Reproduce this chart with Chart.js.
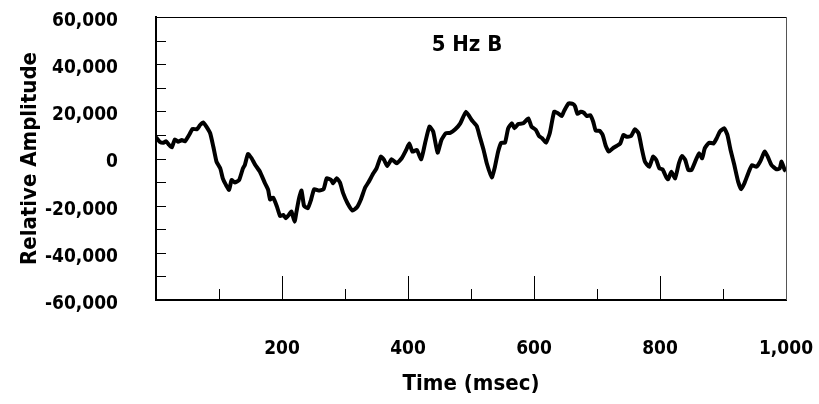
<!DOCTYPE html>
<html>
<head>
<meta charset="utf-8">
<script src="https://cdn.jsdelivr.net/npm/chart.js@4"></script>
<style>
  body { margin: 0; background: #fff; }
</style>
</head>
<body>
<canvas id="myChart" width="819" height="404"></canvas>
<script>
const timeMs = [0, 6, 12, 16, 20, 25, 30, 35, 41, 46, 53, 58, 65, 70, 75, 80, 86, 91, 96, 102,
    106, 111, 116, 120, 125, 132, 138, 141, 146, 152, 157, 165, 173, 178, 181, 186, 192, 197, 202, 206,
    212, 215, 220, 223, 227, 231, 235, 241, 246, 251, 258, 266, 271, 278, 281, 287, 292, 297, 304, 312,
    319, 325, 332, 337, 345, 350, 357, 362, 367, 374, 382, 390, 397, 402, 407, 414, 421, 427, 434, 440,
    447, 453, 460, 467, 475, 483, 492, 501, 509, 514, 520, 525, 533, 538, 543, 548, 554, 559, 565, 569,
    575, 583, 591, 596, 603, 608, 613, 619, 625, 632, 638, 644, 648, 655, 662, 665, 669, 674, 679, 684,
    689, 694, 698, 704, 709, 714, 719, 725, 731, 737, 742, 747, 754, 760, 766, 771, 776, 783, 789, 794,
    799, 804, 810, 813, 818, 824, 830, 835, 840, 845, 850, 857, 862, 867, 871, 878, 885, 890, 895, 902,
    907, 912, 918, 924, 929, 934, 941, 946, 953, 959, 966, 971, 977, 985, 990, 993, 998, 1000];
const amplitude = [9000, 7100, 6700, 7300, 6000, 4700, 8100, 7100, 7800, 7300, 10200, 12500, 12400, 14200, 15300, 13500, 10700, 5000, -1300, -4200,
    -8400, -11200, -13300, -9100, -10200, -9100, -4200, -2800, 1900, 0, -2500, -5600, -10500, -13300, -17300, -16600, -20400, -24400, -23900, -25300,
    -23500, -22500, -26800, -22500, -16900, -13600, -20100, -21100, -17600, -13000, -13600, -13000, -8400, -9100, -10500, -8400, -10200, -14700, -19000, -22100,
    -20700, -17500, -12300, -10200, -6300, -4200, 800, -600, -3200, -300, -2000, 100, 3600, 6400, 2900, 3600, -300, 6400, 13500, 11400,
    2500, 7800, 10700, 10900, 12400, 14900, 19800, 16300, 13800, 9200, 3600, -2000, -8000, -3500, 2900, 6700, 6700, 12800, 14900, 12800,
    14600, 14900, 17000, 13500, 12100, 9500, 8600, 6700, 10700, 19800, 19200, 18000, 20300, 23400, 23100, 22200, 18900, 19800, 19400, 18000,
    18400, 15600, 11800, 11800, 10000, 5300, 2900, 4300, 5300, 6400, 10000, 9200, 9500, 12400, 10700, 4300, -1300, -3500, 800, -600,
    -4200, -4600, -8000, -8800, -5600, -8400, -2000, 1100, -600, -4900, -4900, -600, 2200, 100, 4300, 6700, 6400, 8600, 11400, 12800,
    10000, 3600, -2800, -9800, -13000, -10500, -5600, -2800, -3500, -1300, 2900, 800, -2800, -4600, -4200, -1300, -4900, -5200];
const xTickLabels = [200, 400, 600, 800, 1000];
const yTickLabels = [-60000, -40000, -20000, 0, 20000, 40000, 60000];

const fontFamily = "'DejaVu Sans Condensed', 'DejaVu Sans', sans-serif";

// inward tick marks, frame and in-plot title
const framePlugin = {
    id: 'frame',
    afterDraw(chart) {
        const ctx = chart.ctx;
        const a = chart.chartArea;
        const x = chart.scales.x;
        const y = chart.scales.y;
        ctx.save();
        ctx.strokeStyle = '#000';
        ctx.lineWidth = 1;
        ctx.beginPath();
        for (let v = 100; v < 1000; v += 100) {
            const px = Math.round(x.getPixelForValue(v)) + 0.5;
            const len = xTickLabels.includes(v) ? 24 : 11;
            ctx.moveTo(px, a.bottom);
            ctx.lineTo(px, a.bottom - len);
        }
        for (let v = -50000; v < 60000; v += 10000) {
            const py = Math.round(y.getPixelForValue(v)) + 0.5;
            ctx.moveTo(a.left, py);
            ctx.lineTo(a.left + 10, py);
        }
        ctx.moveTo(a.left, a.top + 0.5);
        ctx.lineTo(a.right, a.top + 0.5);
        ctx.stroke();
        ctx.strokeStyle = '#555';
        ctx.beginPath();
        ctx.moveTo(a.right + 0.5, a.top);
        ctx.lineTo(a.right + 0.5, a.bottom);
        ctx.stroke();

        ctx.fillStyle = '#000';
        ctx.font = 'bold 22px ' + fontFamily;
        ctx.textAlign = 'center';
        ctx.textBaseline = 'middle';
        ctx.fillText('5 Hz B', (a.left + a.right) / 2 - 4, 45);
        ctx.restore();
    }
};

new Chart(document.getElementById("myChart"), {
    type: 'line',
    data: {
        datasets: [{
            data: timeMs.map((t, i) => ({x: t, y: amplitude[i]})),
            borderColor: '#000',
            borderWidth: 4,
            pointRadius: 0,
            tension: 0.15,
            fill: false
        }]
    },
    options: {
        responsive: false,
        animation: false,
        layout: {padding: {top: 17, right: 33, left: 0, bottom: 0}},
        plugins: {
            legend: {display: false},
            tooltip: {enabled: false}
        },
        scales: {
            x: {
                type: 'linear',
                min: 0,
                max: 1000,
                afterFit: s => {
                    s.height = 104;
                    s.paddingLeft = 0;
                    s.paddingRight = 0;
                },
                grid: {display: false, drawTicks: false},
                border: {display: true, color: '#000', width: 2},
                ticks: {
                    stepSize: 100,
                    autoSkip: false,
                    maxRotation: 0,
                    padding: 38,
                    color: '#000',
                    font: {family: fontFamily, size: 19, weight: 'bold'},
                    callback: v => xTickLabels.includes(v) ? v.toLocaleString('en-US') : ''
                },
                title: {
                    display: true,
                    text: 'Time (msec)',
                    color: '#000',
                    font: {family: fontFamily, size: 22, weight: 'bold'},
                    padding: {top: 0, bottom: 7}
                }
            },
            y: {
                min: -60000,
                max: 60000,
                afterFit: s => {
                    s.width = 156;
                    s.paddingTop = 0;
                    s.paddingBottom = 0;
                },
                grid: {display: false, drawTicks: false},
                border: {display: true, color: '#000', width: 2},
                ticks: {
                    stepSize: 10000,
                    autoSkip: false,
                    padding: 38,
                    labelOffset: 4,
                    color: '#000',
                    font: {family: fontFamily, size: 19, weight: 'bold'},
                    callback: v => yTickLabels.includes(v) ? v.toLocaleString('en-US') : ''
                },
                title: {
                    display: true,
                    text: 'Relative Amplitude',
                    color: '#000',
                    font: {family: fontFamily, size: 22, weight: 'bold'},
                    padding: {top: 17, bottom: 0}
                }
            }
        }
    },
    plugins: [framePlugin]
});
</script>
</body>
</html>
